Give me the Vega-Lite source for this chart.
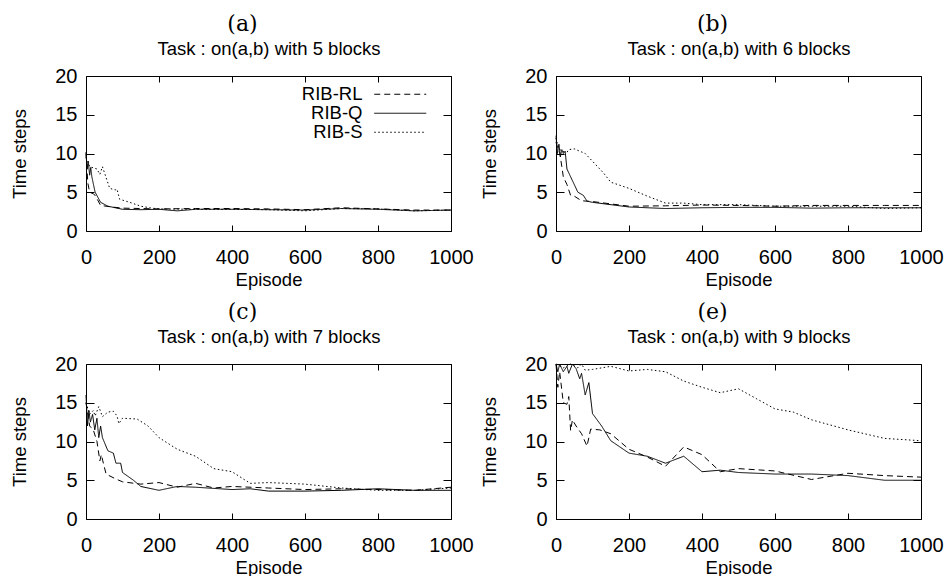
{
  "$schema": "https://vega.github.io/schema/vega-lite/v6.json",
  "background": "white",
  "padding": {"left": 10, "top": 12, "right": 0, "bottom": 0},
  "columns": 2,
  "spacing": {"row": 11, "column": 6},
  "datasets": {
    "d": [
      {"p":"a","s":"RIB-RL","e":0,"v":10},{"p":"a","s":"RIB-RL","e":5,"v":6.2},{"p":"a","s":"RIB-RL","e":10,"v":5.0},{"p":"a","s":"RIB-RL","e":20,"v":4.8},{"p":"a","s":"RIB-RL","e":25,"v":4.6},{"p":"a","s":"RIB-RL","e":40,"v":3.3},{"p":"a","s":"RIB-RL","e":70,"v":3.1},{"p":"a","s":"RIB-RL","e":100,"v":2.95},{"p":"a","s":"RIB-RL","e":150,"v":2.9},{"p":"a","s":"RIB-RL","e":200,"v":2.85},{"p":"a","s":"RIB-RL","e":300,"v":2.9},{"p":"a","s":"RIB-RL","e":400,"v":2.9},{"p":"a","s":"RIB-RL","e":500,"v":2.85},{"p":"a","s":"RIB-RL","e":600,"v":2.75},{"p":"a","s":"RIB-RL","e":700,"v":3.0},{"p":"a","s":"RIB-RL","e":800,"v":2.85},{"p":"a","s":"RIB-RL","e":900,"v":2.7},{"p":"a","s":"RIB-RL","e":1000,"v":2.7},
      {"p":"a","s":"RIB-Q","e":0,"v":10.2},{"p":"a","s":"RIB-Q","e":3,"v":8},{"p":"a","s":"RIB-Q","e":6,"v":9},{"p":"a","s":"RIB-Q","e":10,"v":7.2},{"p":"a","s":"RIB-Q","e":13,"v":8.2},{"p":"a","s":"RIB-Q","e":16,"v":7.0},{"p":"a","s":"RIB-Q","e":25,"v":5.0},{"p":"a","s":"RIB-Q","e":40,"v":3.7},{"p":"a","s":"RIB-Q","e":60,"v":3.2},{"p":"a","s":"RIB-Q","e":80,"v":3.0},{"p":"a","s":"RIB-Q","e":100,"v":2.8},{"p":"a","s":"RIB-Q","e":150,"v":2.75},{"p":"a","s":"RIB-Q","e":200,"v":2.8},{"p":"a","s":"RIB-Q","e":250,"v":2.6},{"p":"a","s":"RIB-Q","e":300,"v":2.8},{"p":"a","s":"RIB-Q","e":400,"v":2.8},{"p":"a","s":"RIB-Q","e":500,"v":2.75},{"p":"a","s":"RIB-Q","e":600,"v":2.7},{"p":"a","s":"RIB-Q","e":700,"v":2.9},{"p":"a","s":"RIB-Q","e":800,"v":2.8},{"p":"a","s":"RIB-Q","e":900,"v":2.6},{"p":"a","s":"RIB-Q","e":1000,"v":2.7},
      {"p":"a","s":"RIB-S","e":0,"v":9.5},{"p":"a","s":"RIB-S","e":5,"v":9.0},{"p":"a","s":"RIB-S","e":10,"v":8.3},{"p":"a","s":"RIB-S","e":30,"v":8.0},{"p":"a","s":"RIB-S","e":38,"v":7.3},{"p":"a","s":"RIB-S","e":45,"v":8.3},{"p":"a","s":"RIB-S","e":65,"v":5.5},{"p":"a","s":"RIB-S","e":80,"v":5.3},{"p":"a","s":"RIB-S","e":85,"v":5.4},{"p":"a","s":"RIB-S","e":92,"v":4.1},{"p":"a","s":"RIB-S","e":120,"v":3.7},{"p":"a","s":"RIB-S","e":150,"v":3.2},{"p":"a","s":"RIB-S","e":180,"v":2.95},{"p":"a","s":"RIB-S","e":200,"v":2.85},{"p":"a","s":"RIB-S","e":300,"v":2.8},{"p":"a","s":"RIB-S","e":400,"v":2.8},{"p":"a","s":"RIB-S","e":500,"v":2.75},{"p":"a","s":"RIB-S","e":600,"v":2.6},{"p":"a","s":"RIB-S","e":700,"v":2.9},{"p":"a","s":"RIB-S","e":800,"v":2.85},{"p":"a","s":"RIB-S","e":900,"v":2.6},{"p":"a","s":"RIB-S","e":1000,"v":2.7},

      {"p":"b","s":"RIB-RL","e":0,"v":11.5},{"p":"b","s":"RIB-RL","e":5,"v":10.5},{"p":"b","s":"RIB-RL","e":10,"v":10.2},{"p":"b","s":"RIB-RL","e":20,"v":7.0},{"p":"b","s":"RIB-RL","e":30,"v":6.0},{"p":"b","s":"RIB-RL","e":40,"v":4.6},{"p":"b","s":"RIB-RL","e":50,"v":4.5},{"p":"b","s":"RIB-RL","e":70,"v":3.9},{"p":"b","s":"RIB-RL","e":100,"v":3.8},{"p":"b","s":"RIB-RL","e":200,"v":3.2},{"p":"b","s":"RIB-RL","e":300,"v":3.25},{"p":"b","s":"RIB-RL","e":400,"v":3.35},{"p":"b","s":"RIB-RL","e":500,"v":3.3},{"p":"b","s":"RIB-RL","e":600,"v":3.2},{"p":"b","s":"RIB-RL","e":700,"v":3.3},{"p":"b","s":"RIB-RL","e":800,"v":3.3},{"p":"b","s":"RIB-RL","e":900,"v":3.3},{"p":"b","s":"RIB-RL","e":1000,"v":3.3},
      {"p":"b","s":"RIB-Q","e":0,"v":12.3},{"p":"b","s":"RIB-Q","e":4,"v":10},{"p":"b","s":"RIB-Q","e":8,"v":11.2},{"p":"b","s":"RIB-Q","e":12,"v":9.6},{"p":"b","s":"RIB-Q","e":16,"v":10.5},{"p":"b","s":"RIB-Q","e":20,"v":10},{"p":"b","s":"RIB-Q","e":25,"v":10.3},{"p":"b","s":"RIB-Q","e":30,"v":8},{"p":"b","s":"RIB-Q","e":45,"v":6.5},{"p":"b","s":"RIB-Q","e":60,"v":5.0},{"p":"b","s":"RIB-Q","e":75,"v":4.6},{"p":"b","s":"RIB-Q","e":85,"v":3.85},{"p":"b","s":"RIB-Q","e":100,"v":3.7},{"p":"b","s":"RIB-Q","e":200,"v":3.1},{"p":"b","s":"RIB-Q","e":300,"v":2.9},{"p":"b","s":"RIB-Q","e":400,"v":3.0},{"p":"b","s":"RIB-Q","e":500,"v":3.05},{"p":"b","s":"RIB-Q","e":600,"v":3.05},{"p":"b","s":"RIB-Q","e":700,"v":2.95},{"p":"b","s":"RIB-Q","e":800,"v":3.0},{"p":"b","s":"RIB-Q","e":900,"v":3.0},{"p":"b","s":"RIB-Q","e":1000,"v":3.0},
      {"p":"b","s":"RIB-S","e":0,"v":12},{"p":"b","s":"RIB-S","e":5,"v":11},{"p":"b","s":"RIB-S","e":10,"v":10.5},{"p":"b","s":"RIB-S","e":20,"v":10.3},{"p":"b","s":"RIB-S","e":25,"v":9.8},{"p":"b","s":"RIB-S","e":35,"v":10.5},{"p":"b","s":"RIB-S","e":50,"v":10.6},{"p":"b","s":"RIB-S","e":80,"v":10},{"p":"b","s":"RIB-S","e":100,"v":9.0},{"p":"b","s":"RIB-S","e":130,"v":7.5},{"p":"b","s":"RIB-S","e":150,"v":6.3},{"p":"b","s":"RIB-S","e":200,"v":5.5},{"p":"b","s":"RIB-S","e":250,"v":4.5},{"p":"b","s":"RIB-S","e":300,"v":3.6},{"p":"b","s":"RIB-S","e":350,"v":3.6},{"p":"b","s":"RIB-S","e":400,"v":3.4},{"p":"b","s":"RIB-S","e":500,"v":3.4},{"p":"b","s":"RIB-S","e":600,"v":3.2},{"p":"b","s":"RIB-S","e":700,"v":3.2},{"p":"b","s":"RIB-S","e":800,"v":3.2},{"p":"b","s":"RIB-S","e":900,"v":2.9},{"p":"b","s":"RIB-S","e":1000,"v":3.0},

      {"p":"c","s":"RIB-RL","e":0,"v":15},{"p":"c","s":"RIB-RL","e":10,"v":12},{"p":"c","s":"RIB-RL","e":20,"v":11.5},{"p":"c","s":"RIB-RL","e":30,"v":10},{"p":"c","s":"RIB-RL","e":38,"v":7.5},{"p":"c","s":"RIB-RL","e":42,"v":8.3},{"p":"c","s":"RIB-RL","e":46,"v":7.5},{"p":"c","s":"RIB-RL","e":55,"v":5.8},{"p":"c","s":"RIB-RL","e":80,"v":5.2},{"p":"c","s":"RIB-RL","e":100,"v":4.8},{"p":"c","s":"RIB-RL","e":150,"v":4.5},{"p":"c","s":"RIB-RL","e":200,"v":4.7},{"p":"c","s":"RIB-RL","e":250,"v":4.1},{"p":"c","s":"RIB-RL","e":300,"v":4.6},{"p":"c","s":"RIB-RL","e":350,"v":4.0},{"p":"c","s":"RIB-RL","e":400,"v":4.2},{"p":"c","s":"RIB-RL","e":500,"v":4.0},{"p":"c","s":"RIB-RL","e":600,"v":3.8},{"p":"c","s":"RIB-RL","e":700,"v":3.9},{"p":"c","s":"RIB-RL","e":800,"v":3.8},{"p":"c","s":"RIB-RL","e":900,"v":3.7},{"p":"c","s":"RIB-RL","e":1000,"v":4.1},
      {"p":"c","s":"RIB-Q","e":0,"v":16},{"p":"c","s":"RIB-Q","e":4,"v":12},{"p":"c","s":"RIB-Q","e":8,"v":14},{"p":"c","s":"RIB-Q","e":12,"v":12.5},{"p":"c","s":"RIB-Q","e":18,"v":13.5},{"p":"c","s":"RIB-Q","e":24,"v":11.5},{"p":"c","s":"RIB-Q","e":30,"v":13},{"p":"c","s":"RIB-Q","e":35,"v":10.5},{"p":"c","s":"RIB-Q","e":40,"v":12},{"p":"c","s":"RIB-Q","e":45,"v":10.5},{"p":"c","s":"RIB-Q","e":60,"v":8.8},{"p":"c","s":"RIB-Q","e":75,"v":8.5},{"p":"c","s":"RIB-Q","e":82,"v":7.2},{"p":"c","s":"RIB-Q","e":95,"v":7.2},{"p":"c","s":"RIB-Q","e":100,"v":6.0},{"p":"c","s":"RIB-Q","e":130,"v":5.0},{"p":"c","s":"RIB-Q","e":150,"v":4.2},{"p":"c","s":"RIB-Q","e":200,"v":3.7},{"p":"c","s":"RIB-Q","e":250,"v":4.2},{"p":"c","s":"RIB-Q","e":300,"v":4.1},{"p":"c","s":"RIB-Q","e":400,"v":3.8},{"p":"c","s":"RIB-Q","e":450,"v":3.9},{"p":"c","s":"RIB-Q","e":500,"v":3.6},{"p":"c","s":"RIB-Q","e":600,"v":3.6},{"p":"c","s":"RIB-Q","e":700,"v":3.7},{"p":"c","s":"RIB-Q","e":800,"v":3.9},{"p":"c","s":"RIB-Q","e":900,"v":3.7},{"p":"c","s":"RIB-Q","e":1000,"v":3.7},
      {"p":"c","s":"RIB-S","e":0,"v":15},{"p":"c","s":"RIB-S","e":10,"v":13.5},{"p":"c","s":"RIB-S","e":20,"v":14},{"p":"c","s":"RIB-S","e":25,"v":13.3},{"p":"c","s":"RIB-S","e":35,"v":14.5},{"p":"c","s":"RIB-S","e":45,"v":13.2},{"p":"c","s":"RIB-S","e":60,"v":13.8},{"p":"c","s":"RIB-S","e":75,"v":13.9},{"p":"c","s":"RIB-S","e":85,"v":13.3},{"p":"c","s":"RIB-S","e":90,"v":12.3},{"p":"c","s":"RIB-S","e":100,"v":13},{"p":"c","s":"RIB-S","e":140,"v":12.9},{"p":"c","s":"RIB-S","e":170,"v":12},{"p":"c","s":"RIB-S","e":200,"v":10.5},{"p":"c","s":"RIB-S","e":250,"v":9},{"p":"c","s":"RIB-S","e":300,"v":8.1},{"p":"c","s":"RIB-S","e":350,"v":6.5},{"p":"c","s":"RIB-S","e":400,"v":6.1},{"p":"c","s":"RIB-S","e":450,"v":4.6},{"p":"c","s":"RIB-S","e":500,"v":4.7},{"p":"c","s":"RIB-S","e":600,"v":4.5},{"p":"c","s":"RIB-S","e":700,"v":4.0},{"p":"c","s":"RIB-S","e":800,"v":3.7},{"p":"c","s":"RIB-S","e":900,"v":3.7},{"p":"c","s":"RIB-S","e":1000,"v":4.0},

      {"p":"e","s":"RIB-RL","e":0,"v":20},{"p":"e","s":"RIB-RL","e":5,"v":17},{"p":"e","s":"RIB-RL","e":10,"v":19},{"p":"e","s":"RIB-RL","e":20,"v":15},{"p":"e","s":"RIB-RL","e":30,"v":14.8},{"p":"e","s":"RIB-RL","e":35,"v":15.8},{"p":"e","s":"RIB-RL","e":40,"v":11.4},{"p":"e","s":"RIB-RL","e":45,"v":12.8},{"p":"e","s":"RIB-RL","e":55,"v":12},{"p":"e","s":"RIB-RL","e":70,"v":11},{"p":"e","s":"RIB-RL","e":85,"v":9.4},{"p":"e","s":"RIB-RL","e":95,"v":11.6},{"p":"e","s":"RIB-RL","e":120,"v":11.5},{"p":"e","s":"RIB-RL","e":150,"v":11},{"p":"e","s":"RIB-RL","e":200,"v":9},{"p":"e","s":"RIB-RL","e":250,"v":8},{"p":"e","s":"RIB-RL","e":300,"v":6.8},{"p":"e","s":"RIB-RL","e":350,"v":9.3},{"p":"e","s":"RIB-RL","e":400,"v":8.3},{"p":"e","s":"RIB-RL","e":450,"v":6.1},{"p":"e","s":"RIB-RL","e":500,"v":6.5},{"p":"e","s":"RIB-RL","e":600,"v":6.2},{"p":"e","s":"RIB-RL","e":700,"v":5.1},{"p":"e","s":"RIB-RL","e":800,"v":5.9},{"p":"e","s":"RIB-RL","e":900,"v":5.6},{"p":"e","s":"RIB-RL","e":1000,"v":5.4},
      {"p":"e","s":"RIB-Q","e":0,"v":20},{"p":"e","s":"RIB-Q","e":5,"v":19},{"p":"e","s":"RIB-Q","e":10,"v":20},{"p":"e","s":"RIB-Q","e":20,"v":19},{"p":"e","s":"RIB-Q","e":30,"v":19.7},{"p":"e","s":"RIB-Q","e":35,"v":18.8},{"p":"e","s":"RIB-Q","e":45,"v":20},{"p":"e","s":"RIB-Q","e":55,"v":19.4},{"p":"e","s":"RIB-Q","e":65,"v":18.1},{"p":"e","s":"RIB-Q","e":70,"v":18.8},{"p":"e","s":"RIB-Q","e":80,"v":16},{"p":"e","s":"RIB-Q","e":90,"v":17.6},{"p":"e","s":"RIB-Q","e":100,"v":13.6},{"p":"e","s":"RIB-Q","e":125,"v":12},{"p":"e","s":"RIB-Q","e":150,"v":10.1},{"p":"e","s":"RIB-Q","e":200,"v":8.5},{"p":"e","s":"RIB-Q","e":250,"v":8.1},{"p":"e","s":"RIB-Q","e":300,"v":7.2},{"p":"e","s":"RIB-Q","e":350,"v":8.1},{"p":"e","s":"RIB-Q","e":400,"v":6.1},{"p":"e","s":"RIB-Q","e":450,"v":6.3},{"p":"e","s":"RIB-Q","e":500,"v":6.0},{"p":"e","s":"RIB-Q","e":600,"v":5.8},{"p":"e","s":"RIB-Q","e":700,"v":5.8},{"p":"e","s":"RIB-Q","e":800,"v":5.6},{"p":"e","s":"RIB-Q","e":900,"v":5.0},{"p":"e","s":"RIB-Q","e":1000,"v":5.0},
      {"p":"e","s":"RIB-S","e":0,"v":20},{"p":"e","s":"RIB-S","e":20,"v":19.5},{"p":"e","s":"RIB-S","e":40,"v":20},{"p":"e","s":"RIB-S","e":60,"v":19.5},{"p":"e","s":"RIB-S","e":70,"v":20},{"p":"e","s":"RIB-S","e":80,"v":19.2},{"p":"e","s":"RIB-S","e":100,"v":19.3},{"p":"e","s":"RIB-S","e":150,"v":19.7},{"p":"e","s":"RIB-S","e":200,"v":19.1},{"p":"e","s":"RIB-S","e":250,"v":19.3},{"p":"e","s":"RIB-S","e":300,"v":19.0},{"p":"e","s":"RIB-S","e":350,"v":17.8},{"p":"e","s":"RIB-S","e":400,"v":17},{"p":"e","s":"RIB-S","e":450,"v":16.3},{"p":"e","s":"RIB-S","e":500,"v":16.8},{"p":"e","s":"RIB-S","e":550,"v":15.5},{"p":"e","s":"RIB-S","e":600,"v":14.2},{"p":"e","s":"RIB-S","e":650,"v":13.8},{"p":"e","s":"RIB-S","e":700,"v":12.8},{"p":"e","s":"RIB-S","e":800,"v":11.5},{"p":"e","s":"RIB-S","e":900,"v":10.4},{"p":"e","s":"RIB-S","e":1000,"v":10.1}
    ]
  },
  "config": {
    "font": "Liberation Sans",
    "view": {"stroke": "black", "strokeWidth": 1},
    "axis": {"domain": false, "grid": false, "tickColor": "black", "tickWidth": 1, "labelColor": "black", "titleColor": "black", "labelFontSize": 20, "titleFontSize": 18.5, "titleFontWeight": "normal", "labelFont": "Liberation Sans", "titleFont": "Liberation Sans", "labelFlush": false, "labelOverlap": false},
    "axisX": {"tickSize": -6, "labelPadding": 22, "titlePadding": 3},
    "axisY": {"tickSize": -8, "labelPadding": 17, "titlePadding": 25},
    "axisTop": {"titlePadding": 17},
    "title": {"font": "DejaVu Serif", "fontSize": 22, "fontWeight": "normal", "color": "black", "dx": -26, "offset": 0, "frame": "group", "anchor": "middle"},
    "legend": {"orient": "none", "legendX": 305, "legendY": 9, "title": null, "padding": 0, "symbolType": "M-4,0H4", "symbolSize": 169, "symbolStrokeWidth": 1, "symbolStrokeColor": "black", "labelAlign": "right", "labelOffset": -47, "labelFontSize": 18.5, "labelFont": "Liberation Sans", "labelColor": "black", "rowPadding": 0}
  },
  "concat": [
    {
      "width": 365, "height": 155,
      "title": "(a)",
      "data": {"name": "d"},
      "transform": [{"filter": "datum.p === 'a'"}],
      "layer": [
        {"mark": {"type": "line", "stroke": "black", "strokeWidth": 1},
         "encoding": {
           "x": {"field": "e", "type": "quantitative", "scale": {"domain": [0, 1000], "nice": false}, "axis": {"orient": "bottom", "title": "Episode", "values": [0, 200, 400, 600, 800, 1000], "format": "d"}},
           "y": {"field": "v", "type": "quantitative", "scale": {"domain": [0, 20], "nice": false}, "axis": {"orient": "left", "title": "Time steps", "values": [0, 5, 10, 15, 20], "format": "d"}},
           "strokeDash": {"field": "s", "type": "nominal", "scale": {"domain": ["RIB-RL", "RIB-Q", "RIB-S"], "range": [[6, 4], [1, 0], [1.5, 2.5]]}}
         }},
        {"mark": {"type": "line", "opacity": 0},
         "encoding": {
           "x": {"field": "e", "type": "quantitative", "axis": {"orient": "top", "title": "Task : on(a,b) with 5 blocks", "labels": false, "values": [0, 200, 400, 600, 800, 1000]}},
           "y": {"field": "v", "type": "quantitative", "axis": {"orient": "right", "title": null, "labels": false, "values": [0, 5, 10, 15, 20]}},
           "detail": {"field": "s"}
         }}
      ],
      "resolve": {"axis": {"x": "independent", "y": "independent"}}
    },
    {
      "width": 365, "height": 155,
      "title": "(b)",
      "data": {"name": "d"},
      "transform": [{"filter": "datum.p === 'b'"}],
      "layer": [
        {"mark": {"type": "line", "stroke": "black", "strokeWidth": 1},
         "encoding": {
           "x": {"field": "e", "type": "quantitative", "scale": {"domain": [0, 1000], "nice": false}, "axis": {"orient": "bottom", "title": "Episode", "values": [0, 200, 400, 600, 800, 1000], "format": "d"}},
           "y": {"field": "v", "type": "quantitative", "scale": {"domain": [0, 20], "nice": false}, "axis": {"orient": "left", "title": "Time steps", "values": [0, 5, 10, 15, 20], "format": "d"}},
           "strokeDash": {"field": "s", "type": "nominal", "scale": {"domain": ["RIB-RL", "RIB-Q", "RIB-S"], "range": [[6, 4], [1, 0], [1.5, 2.5]]}}
         }},
        {"mark": {"type": "line", "opacity": 0},
         "encoding": {
           "x": {"field": "e", "type": "quantitative", "axis": {"orient": "top", "title": "Task : on(a,b) with 6 blocks", "labels": false, "values": [0, 200, 400, 600, 800, 1000]}},
           "y": {"field": "v", "type": "quantitative", "axis": {"orient": "right", "title": null, "labels": false, "values": [0, 5, 10, 15, 20]}},
           "detail": {"field": "s"}
         }}
      ],
      "resolve": {"axis": {"x": "independent", "y": "independent"}}
    },
    {
      "width": 365, "height": 155,
      "title": "(c)",
      "data": {"name": "d"},
      "transform": [{"filter": "datum.p === 'c'"}],
      "layer": [
        {"mark": {"type": "line", "stroke": "black", "strokeWidth": 1},
         "encoding": {
           "x": {"field": "e", "type": "quantitative", "scale": {"domain": [0, 1000], "nice": false}, "axis": {"orient": "bottom", "title": "Episode", "values": [0, 200, 400, 600, 800, 1000], "format": "d"}},
           "y": {"field": "v", "type": "quantitative", "scale": {"domain": [0, 20], "nice": false}, "axis": {"orient": "left", "title": "Time steps", "values": [0, 5, 10, 15, 20], "format": "d"}},
           "strokeDash": {"field": "s", "type": "nominal", "scale": {"domain": ["RIB-RL", "RIB-Q", "RIB-S"], "range": [[6, 4], [1, 0], [1.5, 2.5]]}}
         }},
        {"mark": {"type": "line", "opacity": 0},
         "encoding": {
           "x": {"field": "e", "type": "quantitative", "axis": {"orient": "top", "title": "Task : on(a,b) with 7 blocks", "labels": false, "values": [0, 200, 400, 600, 800, 1000]}},
           "y": {"field": "v", "type": "quantitative", "axis": {"orient": "right", "title": null, "labels": false, "values": [0, 5, 10, 15, 20]}},
           "detail": {"field": "s"}
         }}
      ],
      "resolve": {"axis": {"x": "independent", "y": "independent"}}
    },
    {
      "width": 365, "height": 155,
      "title": "(e)",
      "data": {"name": "d"},
      "transform": [{"filter": "datum.p === 'e'"}],
      "layer": [
        {"mark": {"type": "line", "stroke": "black", "strokeWidth": 1},
         "encoding": {
           "x": {"field": "e", "type": "quantitative", "scale": {"domain": [0, 1000], "nice": false}, "axis": {"orient": "bottom", "title": "Episode", "values": [0, 200, 400, 600, 800, 1000], "format": "d"}},
           "y": {"field": "v", "type": "quantitative", "scale": {"domain": [0, 20], "nice": false}, "axis": {"orient": "left", "title": "Time steps", "values": [0, 5, 10, 15, 20], "format": "d"}},
           "strokeDash": {"field": "s", "type": "nominal", "scale": {"domain": ["RIB-RL", "RIB-Q", "RIB-S"], "range": [[6, 4], [1, 0], [1.5, 2.5]]}}
         }},
        {"mark": {"type": "line", "opacity": 0},
         "encoding": {
           "x": {"field": "e", "type": "quantitative", "axis": {"orient": "top", "title": "Task : on(a,b) with 9 blocks", "labels": false, "values": [0, 200, 400, 600, 800, 1000]}},
           "y": {"field": "v", "type": "quantitative", "axis": {"orient": "right", "title": null, "labels": false, "values": [0, 5, 10, 15, 20]}},
           "detail": {"field": "s"}
         }}
      ],
      "resolve": {"axis": {"x": "independent", "y": "independent"}}
    }
  ]
}
